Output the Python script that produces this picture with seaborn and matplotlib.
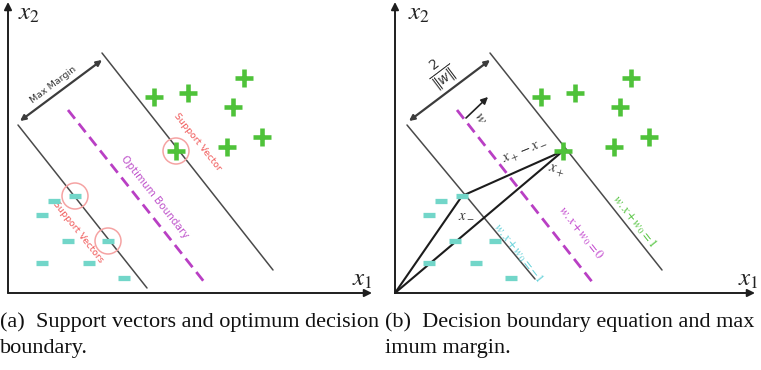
import numpy as np
import matplotlib
matplotlib.use("Agg")
import matplotlib.pyplot as plt
from matplotlib.patches import Circle
import seaborn as sns

sns.set_style("white")
plt.rcParams["font.family"] = ["DejaVu Sans"]

# ---- training points in the (x1, x2) plane (same set in both panels) ----
plus_x1 = [146, 180, 236, 225, 254, 219, 168]
plus_x2 = [196, 200, 215, 186, 156, 146, 142]
minus_x1 = [46, 67, 34, 60, 100, 34, 81, 116]
minus_x2 = [92, 97, 78, 52, 52, 30, 30, 15]

# support vectors
sv_x1 = [168, 67, 100]
sv_x2 = [142, 97, 52]

# margin lines (endpoints) for each panel
lower_a = ([10, 139], [168, 5])
upper_a = ([94, 265], [240, 23])
middle_a = ([60, 197], [183, 10])
lower_b = ([12, 140], [168, 14])
upper_b = ([95, 267], [240, 23])
middle_b = ([62, 198], [183, 10])

# margin width arrows
margin_a = ([12, 94], [172, 233])
margin_b = ([14, 95], [172, 233])

# normal vector w and the x-, x+ points
w_arrow = ([71, 93], [175, 196])
x_minus = (67, 97)
x_plus = (168, 142)

captions = ["(a)  Support vectors and optimum decision", "boundary.",
            "(b)  Decision boundary equation and max", "imum margin."]

GREEN = "#4fc23a"
CYAN = "#72d6c9"
MAGENTA = "#b93fc4"
RED = "#f05a5a"
PINK = "#f5a3a3"
GRAY = "#4a4a4a"
AXC = "#1e1e1e"

W, H = 761, 370
fig = plt.figure(figsize=(W / 100, H / 100), dpi=100)


def make_axes(px_left, px_width, ox, oy=293, px_top=0, px_height=300):
    ax = fig.add_axes([px_left / W, 1 - (px_top + px_height) / H, px_width / W, px_height / H])
    ax.set_xlim(px_left - ox, px_left + px_width - ox)
    ax.set_ylim(oy - (px_top + px_height), oy - px_top)
    ax.axis("off")
    return ax


def draw_common(ax, x_end, lower, upper, middle, margin):
    # coordinate axes
    ax.annotate("", xy=(x_end, 0), xytext=(0, 0),
                arrowprops=dict(arrowstyle="-|>", lw=1.4, color=AXC, mutation_scale=11,
                                shrinkA=0, shrinkB=0))
    ax.annotate("", xy=(0, 291), xytext=(0, 0),
                arrowprops=dict(arrowstyle="-|>", lw=1.4, color=AXC, mutation_scale=11,
                                shrinkA=0, shrinkB=0))
    # boundaries
    ax.plot(*lower, color=GRAY, lw=1.1)
    ax.plot(*upper, color=GRAY, lw=1.1)
    ax.plot(*middle, color=MAGENTA, lw=2.0, dashes=(4, 2.2))
    # margin width
    ax.annotate("", xy=(margin[0][1], margin[1][1]), xytext=(margin[0][0], margin[1][0]),
                arrowprops=dict(arrowstyle="<|-|>", lw=1.6, color="#3c3c3c", mutation_scale=8,
                                shrinkA=0, shrinkB=0))
    # class points
    sns.scatterplot(x=plus_x1, y=plus_x2, marker="+", s=160, linewidth=3.3,
                    color=GREEN, ax=ax, zorder=5)
    sns.scatterplot(x=minus_x1, y=minus_x2, marker="_", s=64, linewidth=3.8,
                    color=CYAN, ax=ax, zorder=5)


ang = np.degrees(np.arctan2(lower_a[1][1] - lower_a[1][0], lower_a[0][1] - lower_a[0][0]))
mk = dict(ha="center", va="center", rotation_mode="anchor")

# ---------------- panel (a) ----------------
axa = make_axes(0, 380, 8)
draw_common(axa, 364, lower_a, upper_a, middle_a, margin_a)
for cx, cy in zip(sv_x1, sv_x2):
    axa.add_patch(Circle((cx, cy), 13, fill=False, ec=PINK, lw=1.1, zorder=6))
axa.text(10, 280, r"$x_2$", fontsize=18, math_fontfamily="stix", color="#222",
         ha="left", va="center")
axa.text(344, 14, r"$x_1$", fontsize=18, math_fontfamily="stix", color="#222",
         ha="left", va="center")
axa.text(45, 208, "Max Margin", fontsize=6.8, color="#333", rotation=37, **mk)
axa.text(147, 96, "Optimum Boundary", fontsize=7.5, color="#c056cc", rotation=ang, **mk)
axa.text(190, 151, "Support Vector", fontsize=6.8, color=RED, rotation=ang, **mk)
axa.text(70, 61, "Support Vectors", fontsize=6.8, color=RED, rotation=ang, **mk)

# ---------------- panel (b) ----------------
axb = make_axes(380, 381, 395)
draw_common(axb, 360, lower_b, upper_b, middle_b, margin_b)
axb.annotate("", xy=(w_arrow[0][1], w_arrow[1][1]), xytext=(w_arrow[0][0], w_arrow[1][0]),
             arrowprops=dict(arrowstyle="-|>", lw=1.2, color="#222", mutation_scale=10,
                             shrinkA=0, shrinkB=0))
for p in (x_minus, x_plus):
    axb.plot([0, p[0]], [0, p[1]], color="#1c1c1c", lw=1.5, zorder=4)
axb.plot([x_minus[0], x_plus[0]], [x_minus[1], x_plus[1]], color="#1c1c1c", lw=1.5, zorder=4)

axb.text(13, 280, r"$x_2$", fontsize=18, math_fontfamily="stix", color="#222",
         ha="left", va="center")
axb.text(343, 14, r"$x_1$", fontsize=18, math_fontfamily="stix", color="#222",
         ha="left", va="center")
axb.text(46, 220, r"$\frac{2}{\|w\|}$", fontsize=14, color="#333", rotation=37,
         math_fontfamily="dejavusans", **mk)
axb.text(86, 175, r"$w$", fontsize=11, color="#333", rotation=-58,
         math_fontfamily="stix", **mk)
axb.text(131, 141, r"$x_+ - x_-$", fontsize=10.5, color="#333", rotation=22,
         math_fontfamily="stix", **mk)
axb.text(161, 122, r"$x_+$", fontsize=10.5, color="#333", rotation=-15,
         math_fontfamily="stix", **mk)
axb.text(71, 80, r"$x_-$", fontsize=10.5, color="#333", math_fontfamily="stix", **mk)
axb.text(239, 72, r"$w.x + w_0 = 1$", fontsize=9, color=GREEN, rotation=ang,
         math_fontfamily="stix", **mk)
axb.text(186, 60, r"$w.x + w_0 = 0$", fontsize=9, color="#c040cc", rotation=ang,
         math_fontfamily="stix", **mk)
axb.text(123, 40, r"$w.x + w_0 = -1$", fontsize=9, color="#5fd0d8", rotation=ang,
         math_fontfamily="stix", **mk)

# ---------------- captions ----------------
cap_kw = dict(fontsize=16, family="Liberation Serif", color="#111", va="center", ha="left")
fig.text(0 / W, 1 - 322 / H, captions[0], **cap_kw)
fig.text(0 / W, 1 - 348 / H, captions[1], **cap_kw)
fig.text(385 / W, 1 - 322 / H, captions[2], **cap_kw)
fig.text(385 / W, 1 - 348 / H, captions[3], **cap_kw)

fig.savefig("out.png", dpi=100)
